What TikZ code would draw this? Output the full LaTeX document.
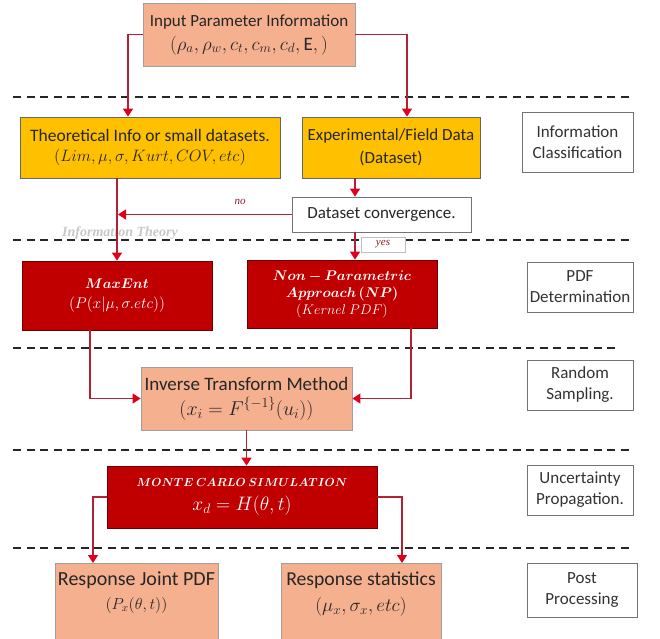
\RequirePackage{fix-cm}
\documentclass[tikz,border=0pt]{standalone}
\usepackage{amsmath}
\usepackage{bm}
\usepackage{fontspec}
\setmainfont{Carlito}
\newfontfamily\serifbi{Liberation Serif}
\usetikzlibrary{arrows.meta}
\definecolor{salm}{HTML}{F5B08F}
\definecolor{gold}{HTML}{FFC000}
\definecolor{dred}{HTML}{C00000}
\definecolor{lnred}{HTML}{B22234}
\definecolor{tipred}{HTML}{E0001B}
\newcommand{\fs}[1]{\fontsize{#1}{#1}\selectfont}
\tikzset{
  every node/.style={inner sep=0pt, align=center},
  salmbox/.style={draw=gray!75, line width=0.8pt, fill=salm, text=black!85},
  goldbox/.style={draw=black!60, line width=0.8pt, fill=gold, text=black!85},
  redbox/.style={draw=black!45!dred, line width=0.8pt, fill=dred, text=white},
  whitebox/.style={draw=black!55, line width=0.8pt, fill=white, text=black!85},
  sidebox/.style={draw=black!55, line width=0.8pt, fill=white, text=black!80,
    font=\fontsize{17}{21}\selectfont},
  conn/.style={draw=lnred, line width=1.3pt, -{Triangle[width=10pt,length=8pt,fill=tipred,color=tipred]}},
  sep/.style={draw=black!85, line width=1.5pt, dash pattern=on 8pt off 5.5pt},
  lbl/.style={text=lnred!80!black, font=\serifbi\itshape\fontsize{11}{13}\selectfont}
}
\begin{document}
\begin{tikzpicture}[x=1pt,y=-1pt]
\useasboundingbox (0,0) rectangle (660,638);
% separators
\draw[sep] (13,97) -- (632,97);
\draw[sep] (13,240) -- (632,240);
\draw[sep] (13,348) -- (615,348);
\draw[sep] (13,450) -- (630,450);
\draw[sep] (13,548) -- (630,548);

% nodes
\node[salmbox, minimum width=212, minimum height=63] (inp) at (249,34.5)
  {\fs{17}Input Parameter Information\\[6pt] \fs{19}$(\rho_a,\rho_w,c_t,c_m,c_d,\mathrm{E},)$};
\node[goldbox, minimum width=260, minimum height=61] (theo) at (150,147.5)
  {\fs{17.5}Theoretical Info or small datasets.\\[7pt] \fs{16.5}$(Lim,\mu,\sigma,Kurt,COV,etc)$};
\node[goldbox, minimum width=178, minimum height=61] (exp) at (391,147.5)
  {\fs{17}Experimental/Field Data\\[7pt] \fs{17}(Dataset)};
\node[whitebox, minimum width=179, minimum height=35, font=\fs{17}] (conv) at (381.5,214.5)
  {Dataset convergence.};
\node[redbox, minimum width=190, minimum height=69] (maxent) at (117,295.5)
  {\fs{14}$\bm{MaxEnt}$\\[8pt] \fs{15.5}$(P(x|\mu,\sigma.etc))$};
\node[redbox, minimum width=190, minimum height=68, font=\fontsize{14}{17}\selectfont] (np) at (342,294)
  {$\bm{Non-Parametric}$\\ $\bm{Approach\,(NP)}$\\ $(Kernel\ PDF)$};
\node[salmbox, minimum width=211, minimum height=63] (inv) at (246.5,398.5)
  {\fs{19}Inverse Transform Method\\[6pt] \fs{20}$(x_i=F^{\{-1\}}(u_i))$};
\node[redbox, minimum width=270, minimum height=62] (mc) at (242,497)
  {\fs{11.7}$\bm{MONTE\ CARLO\ SIMULATION}$\\[8pt]
   \fs{19.5}$x_d=H(\theta,t)$};
\node[salmbox, minimum width=163, minimum height=82, anchor=north] (resp1) at (136.5,563) {};
\node[anchor=north, text=black!85] (resp1t) at ([yshift=-9pt]resp1.north)
  {\fs{20}Response Joint PDF\\[7pt] \fs{16}$(P_x(\theta,t))$};
\node[salmbox, minimum width=160, minimum height=82, anchor=north] (resp2) at (361,563) {};
\node[anchor=north, text=black!85] (resp2t) at ([yshift=-9pt]resp2.north)
  {\fs{19.7}Response statistics\\[7pt] \fs{19}$(\mu_x,\sigma_x,etc)$};

% side boxes
\node[sidebox, minimum width=111, minimum height=60] (ic) at (577.5,142) {Information\\ Classification};
\node[sidebox, minimum width=106, minimum height=50] (pdfd) at (580,287) {PDF\\ Determination};
\node[sidebox, minimum width=106, minimum height=50] (rs) at (580,385) {Random\\ Sampling.};
\node[sidebox, minimum width=106, minimum height=50] (up) at (580,490) {Uncertainty\\ Propagation.};
\node[sidebox, minimum width=110, minimum height=54] (pp) at (582,590) {Post\\ Processing};

% labels
\node[text=black!22, font=\serifbi\bfseries\itshape\fontsize{14}{16}\selectfont] (itheory) at (120,233.5) {Information Theory};
\node[lbl] (nolbl) at (240,202) {no};
\node[draw=black!25, line width=0.5pt, fill=white, minimum width=44, minimum height=15, lbl] (yeslbl) at (383,244.5) {yes};

% connectors
\draw[conn] (inp.west) -| ([xshift=-22pt]theo.north);
\draw[conn] (inp.east) -| ([xshift=16pt]exp.north);
\draw[conn] (maxent.north |- theo.south) -- (maxent.north);
\draw[conn] ([xshift=-26.5pt]conv.north |- exp.south) -- ([xshift=-26.5pt]conv.north);
\draw[conn, shorten >=1pt] (conv.west) -- (conv.west -| maxent.north);
\draw[conn] ([xshift=-26.5pt]conv.south) -- ([xshift=-26.5pt]conv.south |- np.north);
\draw[conn] ([xshift=-27pt]maxent.south) |- (inv.west);
\draw[conn] ([xshift=69pt]np.south) |- (inv.east);
\draw[conn] (inv.south) -- (inv.south |- mc.north);
\draw[conn] (mc.west) -| ([xshift=-43.5pt]resp1.north);
\draw[conn] (mc.east) -| ([xshift=41pt]resp2.north);
\end{tikzpicture}
\end{document}
